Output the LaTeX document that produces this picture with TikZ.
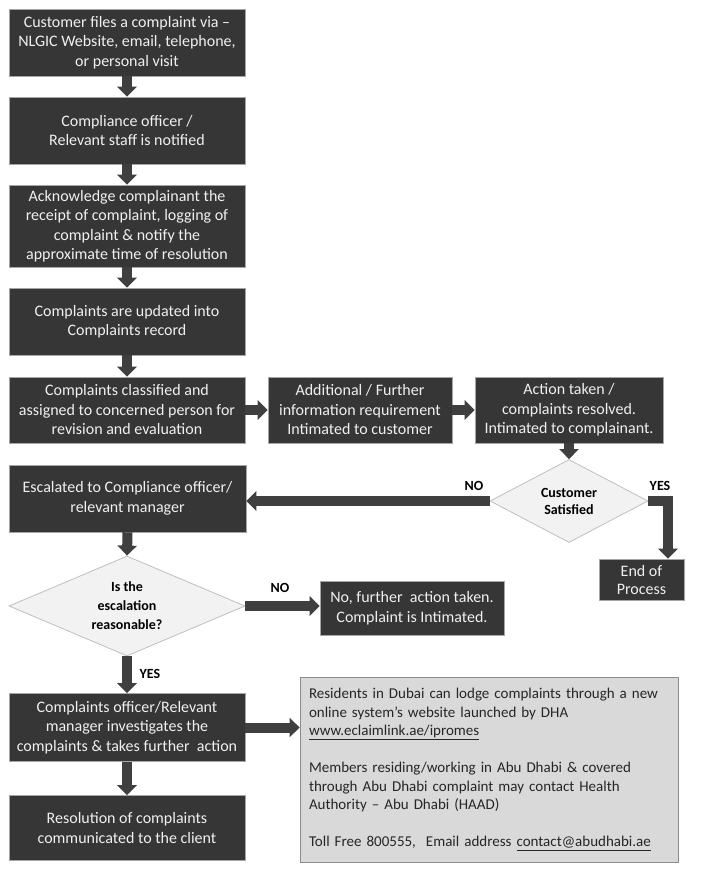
\documentclass[tikz,border=0pt]{standalone}
\usepackage{fontspec}
\setmainfont{Carlito}
\usetikzlibrary{shapes.geometric,arrows.meta}
\definecolor{boxc}{HTML}{363636}
\definecolor{arrc}{HTML}{3F3F3F}
\definecolor{dfill}{HTML}{F2F2F2}
\definecolor{dline}{HTML}{BFBFBF}
\definecolor{gfill}{HTML}{D9D9D9}
\definecolor{gline}{HTML}{8C8C8C}
\definecolor{gtext}{HTML}{262626}
\begin{document}
\begin{tikzpicture}[x=1pt,y=-1pt,
 box/.style={draw=gray!70, line width=0.6pt, fill=boxc, text=white!94!black, align=center, inner sep=0pt, font=\fontsize{16}{19.5}\selectfont},
 dia/.style={diamond, draw=dline, line width=0.8pt, fill=dfill, text=black, align=center, inner sep=0pt, font=\bfseries\fontsize{14}{17}\selectfont},
 arr/.style={draw=arrc, line width=10pt, -{Triangle[width=19pt,length=10pt]}},
 lbl/.style={font=\bfseries\fontsize{14}{17}\selectfont, text=black, inner sep=0pt}
]
\useasboundingbox (0,0) rectangle (702,874);

\node[box, minimum width=236pt, minimum height=67pt] (b1) at (127,42.5) {Customer files a complaint via –\\NLGIC Website, email, telephone,\\or personal visit};
\node[box, minimum width=236pt, minimum height=67pt] (b2) at (127,130.5) {Compliance officer /\\Relevant staff is notified};
\node[box, minimum width=236pt, minimum height=82pt] (b3) at (127,226) {Acknowledge complainant the\\receipt of complaint, logging of\\complaint \& notify the\\approximate time of resolution};
\node[box, minimum width=236pt, minimum height=67pt] (b4) at (127,321.5) {Complaints are updated into\\Complaints record};
\node[box, minimum width=236pt, minimum height=66pt] (b5) at (127,410) {Complaints classified and\\assigned to concerned person for\\revision and evaluation};
\node[box, minimum width=184pt, minimum height=66pt] (b6) at (360,410) {Additional / Further\\information requirement\\Intimated to customer};
\node[box, minimum width=188pt, minimum height=66pt] (b7) at (569,410) {Action taken /\\complaints resolved.\\Intimated to complainant.};
\node[dia, aspect=1.9, minimum width=158pt, minimum height=83pt] (d1) at (569,501) {Customer\\Satisfied};
\node[box, minimum width=237pt, minimum height=67pt] (b8) at (127.5,498.5) {Escalated to Compliance officer/\\relevant manager};
\node[box, minimum width=85pt, minimum height=41pt, font=\fontsize{16}{18}\selectfont] (e) at (641.5,579.5) {End of\\Process};
\node[dia, aspect=2.36, minimum width=236pt, minimum height=100pt, font=\bfseries\fontsize{14}{19}\selectfont] (d2) at (127,606) {Is the\\escalation\\reasonable?};
\node[box, minimum width=184pt, minimum height=54pt] (nf) at (412,608) {No, further\ \ action taken.\\Complaint is Intimated.};
\node[box, minimum width=236pt, minimum height=68pt] (b9) at (127,727.5) {Complaints officer/Relevant\\manager investigates the\\complaints \& takes further\ \ action};
\node[box, minimum width=236pt, minimum height=65pt] (b10) at (127,828) {Resolution of complaints\\communicated to the client};
\node[draw=gline, line width=0.8pt, fill=gfill, text=gtext, align=left, text width=360pt, inner xsep=9pt, inner ysep=0pt, minimum height=185pt, font=\fontsize{15}{18.5}\selectfont] (g) at (489,769.5) {Residents in Dubai can lodge complaints through a new\\online system’s website launched by DHA\\\underline{www.eclaimlink.ae/ipromes}\\[18.5pt]Members residing/working in Abu Dhabi \& covered\\through Abu Dhabi complaint may contact Health\\Authority – Abu Dhabi (HAAD)\\[18.5pt]Toll Free 800555,\ \ Email address \underline{contact@abudhabi.ae}};

\coordinate (yc) at (668,501);

\draw[arr] (b1.south) -- (b2.north);
\draw[arr] (b2.south) -- (b3.north);
\draw[arr] (b3.south) -- (b4.north);
\draw[arr] (b4.south) -- (b5.north);
\draw[arr] (b5.east) -- (b6.west);
\draw[arr] (b6.east) -- (b7.west);
\draw[arr] (b7.south) -- (d1.north);
\draw[arr] (d1.west) -- (d1.west -| b8.east);
\draw[arr, line join=miter] (d1.east) -- (yc) -- (yc |- e.north);
\draw[arr] (b8.south) -- (d2.north);
\draw[arr] (d2.east) -- (d2.east -| nf.west);
\draw[arr] (d2.south) -- (b9.north);
\draw[arr] (b9.east) -- (b9.east -| g.west);
\draw[arr] (b9.south) -- (b10.north);

\node[lbl] (no1) at (474,486) {NO};
\node[lbl] (yes1) at (660,486) {YES};
\node[lbl] (no2) at (280,588) {NO};
\node[lbl] (yes2) at (150,674) {YES};
\end{tikzpicture}
\end{document}
